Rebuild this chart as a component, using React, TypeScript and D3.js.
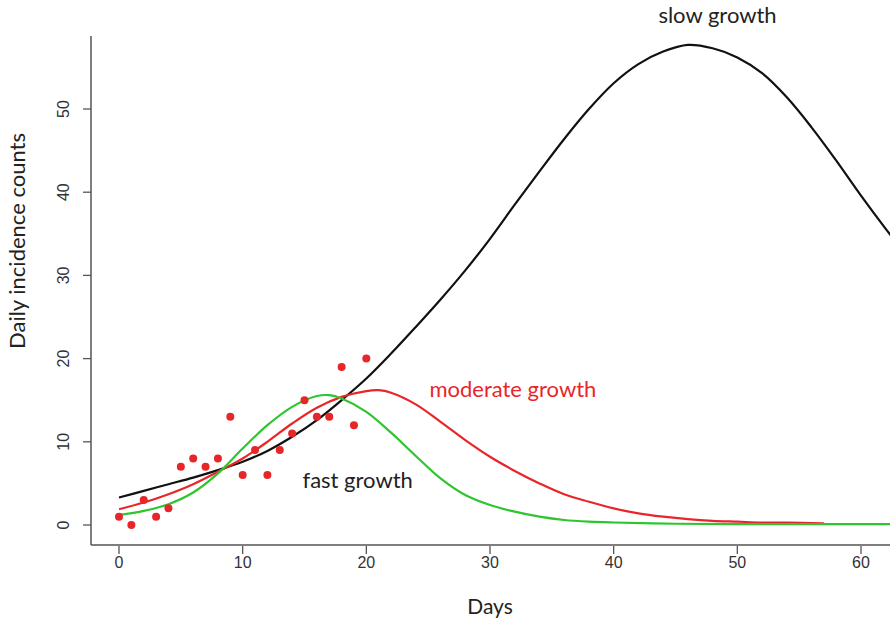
import React from "react";
import * as d3 from "d3";

// observed daily counts
const obsDays = [0, 1, 2, 3, 4, 5, 6, 7, 8, 9, 10, 11, 12, 13, 14, 15, 16, 17, 18, 19, 20];
const obsCounts = [1, 0, 3, 1, 2, 7, 8, 7, 8, 13, 6, 9, 6, 9, 11, 15, 13, 13, 19, 12, 20];

// slow growth fit
const slowDays = [0, 2, 4, 6, 8, 10, 12, 14, 16, 18, 20, 22, 24, 26, 28, 30, 32, 34, 36, 38, 40, 42, 44, 46, 48, 50, 52, 54, 56, 58, 60, 62, 64];
const slowVals = [3.3, 4.1, 4.9, 5.7, 6.6, 7.6, 8.9, 10.6, 12.6, 15.0, 17.6, 20.6, 23.8, 27.1, 30.6, 34.4, 38.5, 42.5, 46.4, 50.0, 53.1, 55.4, 56.9, 57.7, 57.3, 56.2, 54.3, 51.4, 47.8, 43.8, 39.6, 35.6, 31.8];

// moderate growth fit
const modDays = [0, 2, 4, 6, 8, 10, 12, 14, 16, 18, 20, 21, 22, 24, 26, 28, 30, 32, 34, 36, 38, 40, 42, 44, 46, 48, 50, 52, 54, 57];
const modVals = [1.9, 2.7, 3.7, 4.9, 6.4, 8.0, 10.0, 12.2, 14.1, 15.4, 16.1, 16.2, 15.9, 14.5, 12.4, 10.2, 8.2, 6.5, 5.0, 3.7, 2.8, 2.0, 1.4, 1.0, 0.7, 0.5, 0.4, 0.3, 0.3, 0.2];

// fast growth fit
const fastDays = [0, 2, 4, 6, 8, 10, 12, 14, 16, 17, 18, 20, 22, 24, 26, 28, 30, 32, 34, 36, 38, 40, 45, 50, 55, 60, 65];
const fastVals = [1.2, 1.7, 2.5, 3.9, 6.2, 9.2, 12.0, 14.2, 15.5, 15.6, 15.2, 13.6, 11.1, 8.3, 5.6, 3.6, 2.4, 1.6, 1.0, 0.6, 0.4, 0.3, 0.15, 0.1, 0.1, 0.1, 0.1];

const xTicks = [0, 10, 20, 30, 40, 50, 60];
const yTicks = [0, 10, 20, 30, 40, 50];

const W = 890;
const H = 621;
const RED = "#e8262a";
const GREEN = "#2ec52e";
const AXIS = "#555";

export default function App() {
  const x = d3.scaleLinear().domain([0, 60]).range([119, 861]);
  const y = d3.scaleLinear().domain([0, 50]).range([525, 109]);

  const left = 91;
  const bottom = 545;
  const top = 36;

  const line = d3
    .line<[number, number]>()
    .x((d) => x(d[0]))
    .y((d) => y(d[1]))
    .curve(d3.curveCatmullRom.alpha(0.5));

  const zip = (a: number[], b: number[]) => a.map((v, i) => [v, b[i]] as [number, number]);

  const labelFont = "Lato, 'Open Sans', sans-serif";
  const tickFont = "'Liberation Sans', Arial, sans-serif";

  return (
    <svg
      width={W}
      height={H}
      style={{ position: "absolute", left: 0, top: 0, background: "#fff" }}
    >
      <defs>
        <clipPath id="plot">
          <rect x={left} y={0} width={W - left} height={bottom} />
        </clipPath>
      </defs>

      {/* axes box (L shape) */}
      <line x1={left} x2={left} y1={top} y2={bottom} stroke={AXIS} strokeWidth={1.5} />
      <line x1={left} x2={W} y1={bottom} y2={bottom} stroke={AXIS} strokeWidth={1.5} />

      {xTicks.map((t) => (
        <g key={"x" + t}>
          <line x1={x(t)} x2={x(t)} y1={bottom + 1} y2={bottom + 9} stroke={AXIS} strokeWidth={1.3} />
          <text
            x={x(t)}
            y={568}
            textAnchor="middle"
            fontFamily={tickFont}
            fontSize={16}
            fill="#333"
          >
            {t}
          </text>
        </g>
      ))}

      {yTicks.map((t) => (
        <g key={"y" + t}>
          <line x1={left - 8} x2={left} y1={y(t)} y2={y(t)} stroke={AXIS} strokeWidth={1.3} />
          <text
            transform={`translate(69, ${y(t)}) rotate(-90)`}
            textAnchor="middle"
            fontFamily={tickFont}
            fontSize={16}
            fill="#333"
          >
            {t}
          </text>
        </g>
      ))}

      <text x={x(30)} y={614} textAnchor="middle" fontFamily={labelFont} fontSize={21} fill="#222">
        Days
      </text>
      <text
        transform="translate(25, 241) rotate(-90)"
        textAnchor="middle"
        fontFamily={labelFont}
        fontSize={22}
        fill="#222"
      >
        Daily incidence counts
      </text>

      <g clipPath="url(#plot)">
        <path d={line(zip(slowDays, slowVals)) ?? ""} fill="none" stroke="#111" strokeWidth={2.2} />
        <path d={line(zip(modDays, modVals)) ?? ""} fill="none" stroke={RED} strokeWidth={2.2} />
        <path d={line(zip(fastDays, fastVals)) ?? ""} fill="none" stroke={GREEN} strokeWidth={2.2} />
        {obsDays.map((d, i) => (
          <circle key={d} cx={x(d)} cy={y(obsCounts[i])} r={4} fill={RED} />
        ))}
      </g>

      <text x={x(48.4)} y={23} textAnchor="middle" fontFamily={labelFont} fontSize={22} fill="#222">
        slow growth
      </text>
      <text x={x(25.1)} y={397} fontFamily={labelFont} fontSize={22} fill={RED}>
        moderate growth
      </text>
      <text x={x(19.3)} y={488} textAnchor="middle" fontFamily={labelFont} fontSize={22} fill="#222">
        fast growth
      </text>
    </svg>
  );
}
